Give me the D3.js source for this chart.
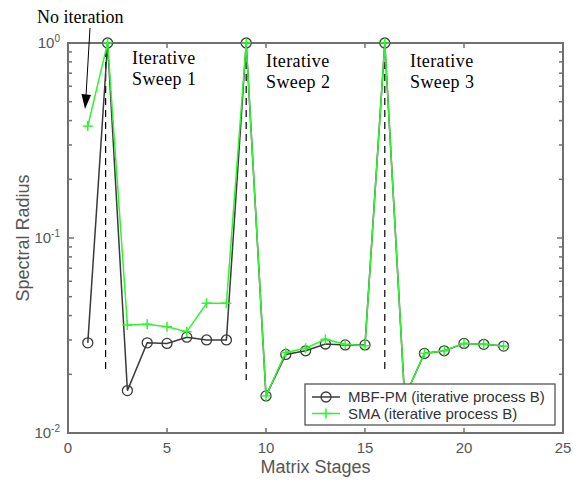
<!DOCTYPE html>
<html><head><meta charset="utf-8">
<script src="https://cdn.jsdelivr.net/npm/d3@7"></script>
<style>body{margin:0;background:#fff}svg{display:block}</style>
</head><body>
<svg id="c" width="574" height="481"></svg>
<script>
const stages = [1,2,3,4,5,6,7,8,9,10,11,12,13,14,15,16,17,18,19,20,21,22];
const mbfpm = [0.029,1.0,0.0165,0.029,0.0288,0.031,0.030,0.030,1.0,0.0155,0.0253,0.0264,0.0286,0.0283,0.0283,1.0,0.0152,0.0256,0.0264,0.0288,0.0285,0.0279];
const sma   = [0.375,1.0,0.0358,0.0361,0.0351,0.0331,0.0463,0.0463,1.0,0.0155,0.0259,0.0272,0.0302,0.0285,0.0280,1.0,0.0152,0.0256,0.0264,0.0288,0.0285,0.0279];
const xTicks = [0,5,10,15,20,25];
const yTicks = [0.01,0.1,1];
const yExps = ["-2","-1","0"];
const sweepX = [1.9,9,16];
const sweepBottom = [0.0205,0.0187,0.021];
const sweepTop = 0.92;
const sweepLabels = [["Iterative","Sweep 1"],["Iterative","Sweep 2"],["Iterative","Sweep 3"]];
const legendLabels = ["MBF-PM (iterative process B)","SMA (iterative process B)"];

const L=68,R=563,T=43,B=433;
const svg=d3.select("#c");
const x=d3.scaleLinear().domain([0,25]).range([L,R]);
const y=d3.scaleLog().domain([0.01,1]).range([B,T]);
const axisCol="#707070";

const minor=[];
[0.01,0.1].forEach(d=>{for(let k=2;k<=9;k++)minor.push(d*k);});

const g=svg.append("g");
xTicks.slice(1,-1).forEach(v=>{
  g.append("line").attr("x1",x(v)).attr("x2",x(v)).attr("y1",B).attr("y2",B-5).attr("stroke",axisCol).attr("stroke-width",1.5);
  g.append("line").attr("x1",x(v)).attr("x2",x(v)).attr("y1",T).attr("y2",T+5).attr("stroke",axisCol).attr("stroke-width",1.5);
});
yTicks.concat(minor).forEach(v=>{
  const len = yTicks.includes(v)?6:4;
  g.append("line").attr("x1",L).attr("x2",L+len).attr("y1",y(v)).attr("y2",y(v)).attr("stroke",axisCol).attr("stroke-width",1.5);
  g.append("line").attr("x1",R).attr("x2",R-len).attr("y1",y(v)).attr("y2",y(v)).attr("stroke",axisCol).attr("stroke-width",1.5);
});
g.append("rect").attr("x",L).attr("y",T).attr("width",R-L).attr("height",B-T).attr("fill","none").attr("stroke",axisCol).attr("stroke-width",2);

xTicks.forEach(v=>{
  svg.append("text").attr("x",x(v)).attr("y",B+20).attr("text-anchor","middle")
    .attr("font-family","Liberation Sans, Arial").attr("font-size",15).attr("fill","#555").text(v);
});
yTicks.forEach((v,i)=>{
  const t=svg.append("text").attr("x",L-8).attr("y",y(v)+5).attr("text-anchor","end")
    .attr("font-family","Liberation Sans, Arial").attr("font-size",15).attr("fill","#555");
  t.append("tspan").text("10");
  t.append("tspan").attr("dy",-6).attr("font-size",10).text(yExps[i]);
});
svg.append("text").attr("x",(L+R)/2).attr("y",473).attr("text-anchor","middle")
  .attr("font-family","Liberation Sans, Arial").attr("font-size",18).attr("fill","#555").text("Matrix Stages");
svg.append("text").attr("transform","translate(29,238) rotate(-90)").attr("text-anchor","middle")
  .attr("font-family","Liberation Sans, Arial").attr("font-size",18).attr("fill","#555").text("Spectral Radius");

sweepX.forEach((v,i)=>{
  svg.append("line").attr("x1",x(v)).attr("x2",x(v)).attr("y1",y(sweepTop)).attr("y2",y(sweepBottom[i]))
    .attr("stroke","#000").attr("stroke-width",1.2).attr("stroke-dasharray","7,5");
});

const line=d3.line().x(d=>x(d[0])).y(d=>y(d[1]));
const d1=stages.map((s,i)=>[s,mbfpm[i]]);
const d2=stages.map((s,i)=>[s,sma[i]]);
const blackCol="#3a3a3a", greenCol="#2ef52e";
svg.append("path").datum(d1).attr("d",line).attr("fill","none").attr("stroke",blackCol).attr("stroke-width",1.5);
svg.selectAll("circle.m").data(d1).enter().append("circle").attr("cx",d=>x(d[0])).attr("cy",d=>y(d[1])).attr("r",5)
  .attr("fill","none").attr("stroke",blackCol).attr("stroke-width",1.3);
svg.append("path").datum(d2).attr("d",line).attr("fill","none").attr("stroke",greenCol).attr("stroke-width",1.5);
const plus=(sel,cx,cy,s)=>{
  sel.append("line").attr("x1",cx-s).attr("x2",cx+s).attr("y1",cy).attr("y2",cy).attr("stroke",greenCol).attr("stroke-width",1.5);
  sel.append("line").attr("x1",cx).attr("x2",cx).attr("y1",cy-s).attr("y2",cy+s).attr("stroke",greenCol).attr("stroke-width",1.5);
};
d2.forEach(d=>plus(svg,x(d[0]),y(d[1]),5));

const labX=[132,266,410], labY=[64,67,67];
sweepLabels.forEach((ls,i)=>{
  ls.forEach((s,j)=>{
    svg.append("text").attr("x",labX[i]).attr("y",labY[i]+j*21).attr("font-family","Liberation Serif, Times New Roman")
      .attr("font-size",18).attr("letter-spacing",0.4).attr("fill","#000").text(s);
  });
});
svg.append("text").attr("x",37).attr("y",23).attr("font-family","Liberation Serif, Times New Roman")
  .attr("font-size",18).attr("fill","#000").text("No iteration");
svg.append("line").attr("x1",90).attr("y1",28).attr("x2",86).attr("y2",96).attr("stroke","#000").attr("stroke-width",1);
svg.append("path").attr("d","M81.5,94 L91,95 L85,109 Z").attr("fill","#000");

const lg=svg.append("g");
lg.append("rect").attr("x",305).attr("y",384).attr("width",250).attr("height",41).attr("fill","#fff").attr("stroke","#555").attr("stroke-width",1.3);
legendLabels.forEach((s,i)=>{
  const yy=397+i*16.5;
  if(i===0){
    lg.append("line").attr("x1",312).attr("x2",340).attr("y1",yy).attr("y2",yy).attr("stroke",blackCol).attr("stroke-width",1.5);
    lg.append("circle").attr("cx",326).attr("cy",yy).attr("r",5).attr("fill","none").attr("stroke",blackCol).attr("stroke-width",1.3);
  } else {
    lg.append("line").attr("x1",312).attr("x2",340).attr("y1",yy).attr("y2",yy).attr("stroke",greenCol).attr("stroke-width",1.5);
    plus(lg,326,yy,5);
  }
  lg.append("text").attr("x",348).attr("y",yy+5).attr("font-family","Liberation Sans, Arial").attr("font-size",15).attr("fill","#333").text(s);
});
</script>
</body></html>
